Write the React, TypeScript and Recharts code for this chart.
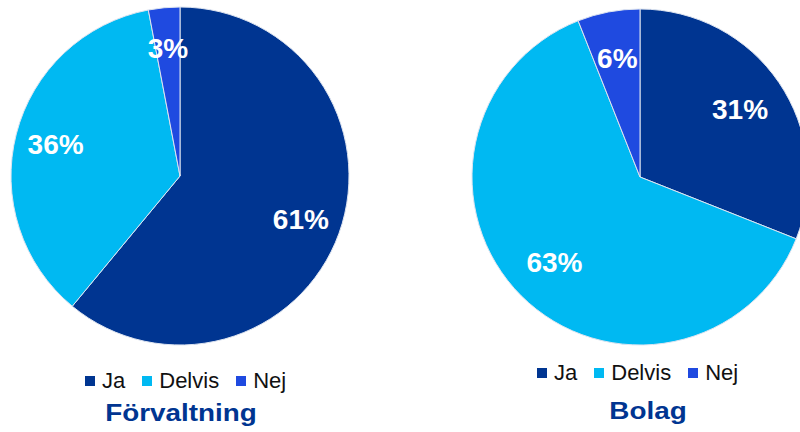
import { PieChart, Pie, Cell } from 'recharts';

const categories = ['Ja', 'Delvis', 'Nej'];
const forvaltningValues = [61, 36, 3];
const bolagValues = [31, 63, 6];
const titles = ['Förvaltning', 'Bolag'];

const colors = ['#003591', '#00B9F2', '#1F4AE0'];
const RAD = Math.PI / 180;

const toData = (values: number[]) => categories.map((name, i) => ({ name, value: values[i] }));

const makeLabel = (factor: number) => (props: any) => {
    const { cx, cy, midAngle, outerRadius, value } = props;
    const r = outerRadius * factor;
    const x = cx + r * Math.cos(-midAngle * RAD);
    const y = cy + r * Math.sin(-midAngle * RAD);
    return (
        <text x={x} y={y} fill="#fff" textAnchor="middle" dominantBaseline="central"
            style={{ fontFamily: '"Liberation Sans", Arial, sans-serif', fontSize: 28, fontWeight: 700 }}>
            {`${value}%`}
        </text>
    );
};

function LegendRow({ left, top }: { left: number; top: number }) {
    return (
        <div style={{ position: 'absolute', left, top, display: 'flex', alignItems: 'center', fontFamily: '"Liberation Sans", Arial, sans-serif', fontSize: 22, color: '#111', whiteSpace: 'nowrap' }}>
            {categories.map((c, i) => (
                <div key={c} style={{ display: 'flex', alignItems: 'center', marginRight: 17 }}>
                    <span style={{ width: 10, height: 10, background: colors[i], display: 'inline-block', marginRight: 7 }} />
                    <span>{c}</span>
                </div>
            ))}
        </div>
    );
}

function Title({ text, center, top }: { text: string; center: number; top: number }) {
    return (
        <div style={{ position: 'absolute', left: center - 150, top, width: 300, textAlign: 'center', fontFamily: '"Liberation Sans", Arial, sans-serif', fontSize: 24, fontWeight: 700, color: '#003591', transform: 'scaleX(1.16)' }}>
            {text}
        </div>
    );
}

export default function App() {
    return (
        <div style={{ position: 'relative', width: 800, height: 432, overflow: 'hidden', background: '#fff' }}>
            <style>{`body{margin:0}`}</style>
            <PieChart width={800} height={432} margin={{ top: 0, right: 0, bottom: 0, left: 0 }}>
                <Pie data={toData(forvaltningValues)} dataKey="value" nameKey="name" cx={180} cy={176} outerRadius={169}
                    startAngle={90} endAngle={-270} stroke="#dde4f0" strokeWidth={1} labelLine={false}
                    label={makeLabel(0.76)} isAnimationActive={false}>
                    {categories.map((c, i) => <Cell key={c} fill={colors[i]} />)}
                </Pie>
                <Pie data={toData(bolagValues)} dataKey="value" nameKey="name" cx={640} cy={177} outerRadius={168}
                    startAngle={90} endAngle={-270} stroke="#dde4f0" strokeWidth={1} labelLine={false}
                    label={makeLabel(0.72)} isAnimationActive={false}>
                    {categories.map((c, i) => <Cell key={c} fill={colors[i]} />)}
                </Pie>
            </PieChart>
            <LegendRow left={85} top={368} />
            <LegendRow left={537} top={360} />
            <Title text={titles[0]} center={181} top={399} />
            <Title text={titles[1]} center={648} top={397} />
        </div>
    );
}
